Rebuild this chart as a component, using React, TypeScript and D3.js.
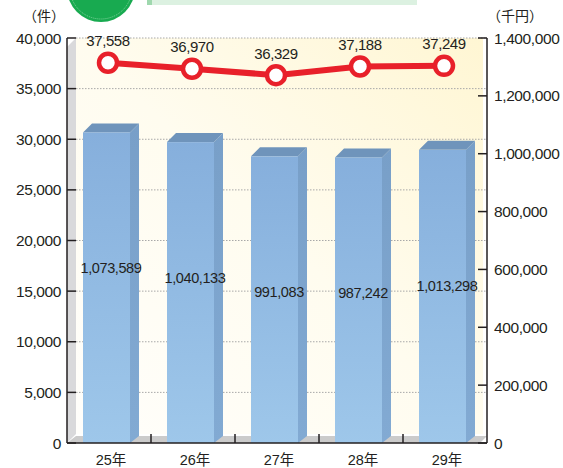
import React from "react";
import * as d3 from "d3";

const categories = ["25年", "26年", "27年", "28年", "29年"];
const amounts = [1073589, 1040133, 991083, 987242, 1013298]; // 千円 (bars, right axis)
const counts = [37558, 36970, 36329, 37188, 37249]; // 件 (line, left axis)
const leftTicks = [0, 5000, 10000, 15000, 20000, 25000, 30000, 35000, 40000];
const rightTicks = [0, 200000, 400000, 600000, 800000, 1000000, 1200000, 1400000];

const W = 563;
const H = 468;
const X0 = 67;
const X1 = 487;
const Y0 = 443;
const Y1 = 38;
const D = 9;
const FONT = "'Liberation Sans', Arial, 'Noto Sans CJK JP', sans-serif";
const CJK = "'Noto Sans CJK JP', sans-serif";
const TXT = "#231f20";

export default function App() {
  const x = d3.scaleBand<string>().domain(categories).range([X0, X1]);
  const yL = d3.scaleLinear().domain([0, 40000]).range([Y0, Y1]);
  const yR = d3.scaleLinear().domain([0, 1400000]).range([Y0, Y1]);
  const fmt = d3.format(",");
  const bw = 47;

  const linePts: [number, number][] = categories.map((c, i) => [
    (x(c) as number) + x.bandwidth() / 2 - 1,
    yL(counts[i]),
  ]);
  const line = d3.line()(linePts) as string;

  return (
    <svg
      width={W}
      height={H}
      style={{ position: "absolute", left: 0, top: 0, background: "#fff" }}
      fontFamily={FONT}
    >
      <defs>
        <linearGradient id="wall" x1="0" y1="1" x2="1" y2="0">
          <stop offset="0" stopColor="#fffefb" />
          <stop offset="0.5" stopColor="#fffcef" />
          <stop offset="1" stopColor="#fff6d3" />
        </linearGradient>
        <linearGradient id="front" x1="0" y1="0" x2="0" y2="1">
          <stop offset="0" stopColor="#86afdc" />
          <stop offset="1" stopColor="#9ec7ea" />
        </linearGradient>
        <linearGradient id="side" x1="0" y1="0" x2="0" y2="1">
          <stop offset="0" stopColor="#789fc8" />
          <stop offset="1" stopColor="#82aad3" />
        </linearGradient>
      </defs>

      {/* top decorations */}
      <circle cx={101} cy={-12} r={34} fill="#18aa50" />
      <circle cx={101} cy={-12} r={31} fill="none" stroke="#7fd49c" strokeWidth={1} strokeDasharray="1 1" />
      <rect x={147} y={-4} width={270} height={9} fill="#dcf1e1" />
      <rect x={147} y={-4} width={5} height={9} fill="#9fd8ae" />

      {/* back wall */}
      <rect x={X0 + D} y={Y1} width={X1 - X0 - D - 4} height={Y0 - D - Y1} fill="url(#wall)" />
      {/* left wall */}
      <polygon
        points={`${X0},${Y1 + D} ${X0 + D},${Y1} ${X0 + D},${Y0 - D} ${X0},${Y0}`}
        fill="#d9d9db"
      />
      {/* floor */}
      <polygon
        points={`${X0},${Y0} ${X0 + D},${Y0 - 7} ${X1},${Y0 - 7} ${X1 - 7},${Y0}`}
        fill="#cbcbcb"
      />

      {/* gridlines */}
      {leftTicks.filter((t) => t > 0).map((t) => (
        <line
          key={"g" + t}
          x1={X0 + D}
          x2={X1}
          y1={yL(t)}
          y2={yL(t)}
          stroke="#a8a8a8"
          strokeWidth={1}
          strokeDasharray="1.5 1.5"
        />
      ))}

      {/* bars */}
      {categories.map((c, i) => {
        const bx = (x(c) as number) + 16;
        const top = yR(amounts[i]);
        return (
          <g key={"b" + c}>
            <polygon
              points={`${bx + bw},${top} ${bx + bw + D},${top - D} ${bx + bw + D},${Y0 - 7} ${bx + bw},${Y0}`}
              fill="url(#side)"
            />
            <polygon
              points={`${bx},${top} ${bx + D},${top - D} ${bx + bw + D},${top - D} ${bx + bw},${top}`}
              fill="#6f94bb"
            />
            <rect x={bx} y={top} width={bw} height={Y0 - top} fill="url(#front)" />
          </g>
        );
      })}

      {/* bar labels */}
      {categories.map((c, i) => (
        <text
          key={"bl" + c}
          x={(x(c) as number) + x.bandwidth() / 2 + 2}
          y={yR(amounts[i]) + 136}
          textAnchor="middle"
          dominantBaseline="central"
          fontSize={14.5}
          fill={TXT}
          letterSpacing={-0.4}
        >
          {fmt(amounts[i])}
        </text>
      ))}

      {/* left axis */}
      <line x1={X0} x2={X0} y1={Y1} y2={Y0} stroke="#231f20" strokeWidth={1.5} />
      {leftTicks.map((t) => (
        <g key={"l" + t}>
          <line x1={X0} x2={X0 + D} y1={yL(t)} y2={yL(t)} stroke="#231f20" strokeWidth={1.5} />
          <text
            x={61}
            y={yL(t)}
            textAnchor="end"
            dominantBaseline="central"
            fontSize={15.5}
            fill={TXT}
            letterSpacing={-0.4}
          >
            {fmt(t)}
          </text>
        </g>
      ))}
      <text x={44} y={15} textAnchor="middle" dominantBaseline="central" fontSize={14} fill={TXT} fontFamily={CJK}>
        （件）
      </text>

      {/* right axis */}
      <line x1={X1} x2={X1} y1={Y1} y2={Y0} stroke="#231f20" strokeWidth={1.5} />
      {rightTicks.map((t) => (
        <g key={"r" + t}>
          <line x1={X1 - 9} x2={X1} y1={yR(t)} y2={yR(t)} stroke="#231f20" strokeWidth={1.5} />
          <text
            x={494}
            y={yR(t)}
            textAnchor="start"
            dominantBaseline="central"
            fontSize={15.5}
            fill={TXT}
            letterSpacing={-0.4}
          >
            {fmt(t)}
          </text>
        </g>
      ))}
      <text x={515} y={15} textAnchor="middle" dominantBaseline="central" fontSize={14} fill={TXT} fontFamily={CJK}>
        （千円）
      </text>

      {/* bottom axis */}
      <line x1={X0} x2={X1} y1={Y0} y2={Y0} stroke="#231f20" strokeWidth={1.5} />
      {categories.slice(1).map((c) => (
        <line
          key={"t" + c}
          x1={x(c) as number}
          x2={x(c) as number}
          y1={Y0}
          y2={Y0 - 9}
          stroke="#231f20"
          strokeWidth={1.5}
        />
      ))}
      {categories.map((c) => (
        <text
          key={"x" + c}
          x={(x(c) as number) + x.bandwidth() / 2 + 2}
          y={460}
          textAnchor="middle"
          dominantBaseline="central"
          fontSize={14.5}
          fill={TXT}
        >
          {c}
        </text>
      ))}

      {/* line */}
      <path d={line} fill="none" stroke="#e8202a" strokeWidth={6} />
      {linePts.map(([px, py], i) => (
        <g key={"p" + i}>
          <circle cx={px} cy={py} r={9} fill="#fff" stroke="#e8202a" strokeWidth={4.5} />
          <text
            x={px}
            y={py - 22}
            textAnchor="middle"
            dominantBaseline="central"
            fontSize={15}
            fill={TXT}
            letterSpacing={-0.4}
          >
            {fmt(counts[i])}
          </text>
        </g>
      ))}
    </svg>
  );
}
